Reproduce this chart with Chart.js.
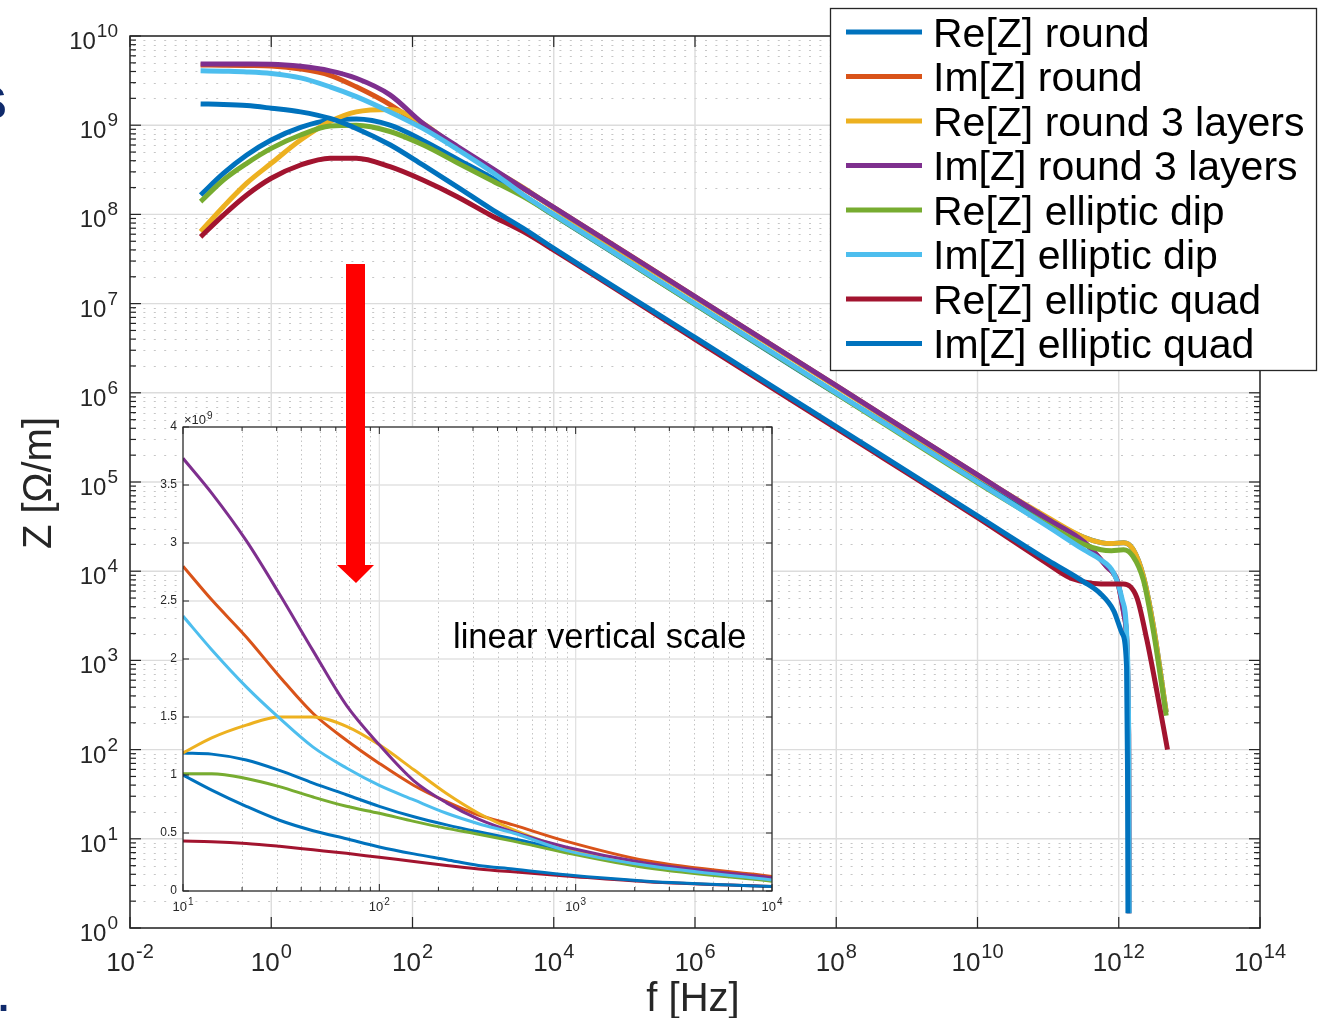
<!DOCTYPE html>
<html>
<head>
<meta charset="utf-8">
<script src="https://cdn.jsdelivr.net/npm/chart.js@4.4.0/dist/chart.umd.min.js"></script>
<style>
html, body { margin: 0; padding: 0; background: #fff; }
#wrap { position: relative; width: 1326px; height: 1018px; overflow: hidden; }
#main { position: absolute; left: 0; top: 0; }
#inset { position: absolute; left: 140px; top: 395px; }
#arrow { position: absolute; left: 0; top: 0; }
.frag { position: absolute; color: #0f2a6b; font-family: "Liberation Sans", Arial, sans-serif; font-weight: bold; }
</style>
</head>
<body>
<div id="wrap">
  <canvas id="main" width="1326" height="1018"></canvas>
  <canvas id="inset" width="650" height="530"></canvas>
  <svg id="arrow" width="1326" height="1018">
    <polygon points="346,264 365,264 365,565 374,565 356,583 337,565 346,565" fill="#ff0000"/>
  </svg>
  <div class="frag" style="left:-24px; top:76px; font-size:46px;">S</div>
  <div class="frag" style="left:-2px; top:975px; font-size:40px;">.</div>
</div>
<script>
// ---- labels / colours
const seriesLabels = ['Re[Z] round', 'Im[Z] round', 'Re[Z] round 3 layers', 'Im[Z] round 3 layers',
                      'Re[Z] elliptic dip', 'Im[Z] elliptic dip', 'Re[Z] elliptic quad', 'Im[Z] elliptic quad'];
const seriesColors = ['#0072BD', '#D95319', '#EDB120', '#7E2F8E', '#77AC30', '#4DBEEE', '#A2142F', '#0072BD'];

// ---- main chart tick labels (exponents of 10)
const xTickExps = [-2, 0, 2, 4, 6, 8, 10, 12, 14];
const yTickExps = [0, 1, 2, 3, 4, 5, 6, 7, 8, 9, 10];

// ---- main chart data, f [Hz] and Z [Ohm/m]
const fMain = [0.1, 0.21, 0.45, 1, 2.6, 6.8, 16, 48, 140, 430, 1.26e3, 3.7e3, 1e4, 1e6, 1e8, 1e10, 1e11];

const reRoundF = [...fMain, 3.2e11, 5.6e11, 7.9e11, 1.17e12, 1.58e12, 2.24e12, 3.1e12, 4.7e12];
const reRoundZ = [1.65e8, 2.88e8, 4.63e8, 6.82e8, 9.46e8, 1.14e9, 1.17e9, 1.0e9, 6.76e8, 4.17e8, 2.63e8, 1.62e8, 9.8e7, 9.8e6, 9.8e5, 1.1e5, 3.8e4,
                  2.4e4, 2.09e4, 2.04e4, 2.09e4, 1.78e4, 8.7e3, 2.4e3, 263];

const imRoundF = [...fMain, 3.2e11, 6.8e11, 9.5e11, 1.2e12, 1.38e12, 1.4e12];
const imRoundZ = [4.73e9, 4.71e9, 4.68e9, 4.62e9, 4.27e9, 3.63e9, 2.69e9, 1.70e9, 9.55e8, 5.5e8, 3.31e8, 1.95e8, 1.2e8, 1.2e7, 1.2e6, 1.2e5, 3.8e4,
                  2.14e4, 1.12e4, 7.9e3, 3.1e3, 150, 1.46];

const re3LayF = [...fMain, 3.2e11, 5.6e11, 7.9e11, 1.17e12, 1.58e12, 2.24e12, 3.1e12, 4.7e12];
const re3LayZ = [6.4e7, 1.22e8, 2.24e8, 3.74e8, 6.82e8, 1.10e9, 1.41e9, 1.5e9, 1.05e9, 5.5e8, 3.31e8, 2.0e8, 1.17e8, 1.17e7, 1.17e6, 1.17e5, 3.98e4,
                 2.4e4, 2.09e4, 2.04e4, 2.09e4, 1.78e4, 8.7e3, 2.4e3, 263];

const im3LayF = [...fMain, 3.2e11, 6.8e11, 9.5e11, 1.2e12, 1.38e12, 1.4e12];
const im3LayZ = [4.85e9, 4.85e9, 4.84e9, 4.82e9, 4.57e9, 4.07e9, 3.36e9, 2.19e9, 1.05e9, 5.8e8, 3.39e8, 1.97e8, 1.2e8, 1.2e7, 1.2e6, 1.2e5, 3.8e4,
                 2.14e4, 1.12e4, 7.9e3, 3.1e3, 150, 1.46];

const reDipF = [...fMain, 3.2e11, 5.6e11, 7.9e11, 1.17e12, 1.58e12, 2.24e12, 3.1e12, 4.7e12];
const reDipZ = [1.39e8, 2.43e8, 3.74e8, 5.5e8, 7.76e8, 9.77e8, 1.0e9, 8.5e8, 6.03e8, 3.8e8, 2.45e8, 1.58e8, 9.8e7, 9.8e6, 9.8e5, 9.8e4, 3.3e4,
                2.0e4, 1.74e4, 1.70e4, 1.74e4, 1.48e4, 7.9e3, 2.1e3, 240];

const imDipF = [...fMain, 3.2e11, 5.5e11, 8.5e11, 1.12e12, 1.32e12, 1.39e12, 1.41e12];
const imDipZ = [4.08e9, 4.03e9, 3.96e9, 3.8e9, 3.39e9, 2.69e9, 2.09e9, 1.41e9, 9.2e8, 5.37e8, 3.09e8, 1.66e8, 1.0e8, 1.0e7, 1.0e6, 1.0e5, 3.16e4,
                1.74e4, 1.35e4, 9.5e3, 4.8e3, 1.32e3, 63, 1.46];

const reQuadF = [...fMain, 2e11, 3.2e11, 5.6e11, 1.17e12, 1.8e12, 2.5e12, 3.5e12, 4.9e12];
const reQuadZ = [5.6e7, 9.8e7, 1.65e8, 2.54e8, 3.58e8, 4.27e8, 4.27e8, 3.43e8, 2.43e8, 1.58e8, 9.86e7, 6.4e7, 3.98e7, 3.98e6, 3.98e5, 3.98e4, 1.2e4,
                 8.5e3, 7.6e3, 7.2e3, 7.2e3, 5.1e3, 1.7e3, 430, 100];

const imQuadF = [...fMain, 3.2e11, 5.5e11, 8.5e11, 1.12e12, 1.29e12, 1.33e12, 1.35e12];
const imQuadZ = [1.73e9, 1.71e9, 1.66e9, 1.55e9, 1.41e9, 1.19e9, 9.2e8, 6.03e8, 3.58e8, 2.04e8, 1.17e8, 6.98e7, 4.17e7, 4.17e6, 4.17e5, 4.17e4, 1.32e4,
                 7.6e3, 5.6e3, 3.6e3, 2.0e3, 850, 63, 1.46];

// ---- inset data (linear vertical scale)
const fInset = [10, 14, 21, 31, 46, 68, 100, 150, 220, 320, 480, 890, 2300, 1e4];
const insReRound = [1.19e9, 1.18e9, 1.13e9, 1.04e9, 9.3e8, 8.3e8, 7.3e8, 6.4e8, 5.7e8, 5.1e8, 4.5e8, 3.5e8, 2.1e8, 9.0e7];
const insImRound = [2.80e9, 2.51e9, 2.19e9, 1.85e9, 1.53e9, 1.30e9, 1.10e9, 9.1e8, 7.7e8, 6.55e8, 5.7e8, 4.3e8, 2.6e8, 1.25e8];
const insRe3Lay  = [1.19e9, 1.32e9, 1.43e9, 1.50e9, 1.50e9, 1.42e9, 1.26e9, 1.045e9, 8.4e8, 6.7e8, 5.3e8, 3.7e8, 2.2e8, 1.0e8];
const insIm3Lay  = [3.73e9, 3.43e9, 3.02e9, 2.56e9, 2.07e9, 1.60e9, 1.26e9, 9.5e8, 7.6e8, 6.2e8, 5.1e8, 3.8e8, 2.4e8, 1.15e8];
const insReDip   = [1.01e9, 1.01e9, 9.7e8, 9.0e8, 8.1e8, 7.3e8, 6.7e8, 6.0e8, 5.4e8, 4.9e8, 4.3e8, 3.3e8, 2.0e8, 8.5e7];
const insImDip   = [2.37e9, 2.08e9, 1.76e9, 1.49e9, 1.24e9, 1.06e9, 9.1e8, 7.85e8, 6.7e8, 5.8e8, 5.0e8, 3.5e8, 2.2e8, 9.5e7];
const insReQuad  = [4.3e8, 4.25e8, 4.1e8, 3.85e8, 3.55e8, 3.25e8, 2.9e8, 2.55e8, 2.2e8, 1.9e8, 1.65e8, 1.3e8, 8.0e7, 3.8e7];
const insImQuad  = [1.0e9, 8.7e8, 7.3e8, 6.1e8, 5.2e8, 4.5e8, 3.8e8, 3.2e8, 2.7e8, 2.2e8, 1.9e8, 1.4e8, 8.5e7, 3.8e7];

const insetYTicks = ['0', '0.5', '1', '1.5', '2', '2.5', '3', '3.5', '4'];
const insetXTickExps = [1, 2, 3, 4];

const FONT = '"Liberation Sans", Arial, Helvetica, sans-serif';
const AX = '#262626';

const mainSeries = [
    [reRoundF, reRoundZ], [imRoundF, imRoundZ], [re3LayF, re3LayZ], [im3LayF, im3LayZ],
    [reDipF, reDipZ], [imDipF, imDipZ], [reQuadF, reQuadZ], [imQuadF, imQuadZ]
];
const insetSeries = [insReRound, insImRound, insRe3Lay, insIm3Lay, insReDip, insImDip, insReQuad, insImQuad];

// later series drawn on top, as in the original plot
const makeDataset = (i, pts, width) => ({
    label: seriesLabels[i],
    data: pts,
    borderColor: seriesColors[i],
    borderWidth: width,
    pointRadius: 0,
    fill: false,
    order: seriesLabels.length - i,
    cubicInterpolationMode: 'monotone'
});

// "10" with a superscript exponent
function powLabel(ctx, x, y, exp, bSize, eSize, rise, align) {
    ctx.font = bSize + 'px ' + FONT;
    const wb = ctx.measureText('10').width;
    ctx.font = eSize + 'px ' + FONT;
    const we = ctx.measureText(String(exp)).width;
    const total = wb + 1 + we;
    const x0 = align === 'right' ? x - total : x - total / 2;
    ctx.textAlign = 'left';
    ctx.textBaseline = 'alphabetic';
    ctx.font = bSize + 'px ' + FONT;
    ctx.fillText('10', x0, y);
    ctx.font = eSize + 'px ' + FONT;
    ctx.fillText(String(exp), x0 + wb + 1, y - rise);
}

function line(ctx, x1, y1, x2, y2) {
    ctx.beginPath(); ctx.moveTo(x1, y1); ctx.lineTo(x2, y2); ctx.stroke();
}

const mainDecor = {
    id: 'mainDecor',
    beforeDraw(chart) {
        const { ctx, chartArea: a, scales: { x, y } } = chart;
        ctx.save();
        ctx.fillStyle = '#fff';
        ctx.fillRect(0, 0, chart.width, chart.height);
        // minor dotted rows
        ctx.strokeStyle = '#c6c6c6';
        ctx.lineWidth = 1;
        ctx.setLineDash([2, 8.4]);
        for (let n = 0; n < 10; n++) {
            for (let k = 2; k <= 9; k++) {
                const py = Math.round(y.getPixelForValue(k * Math.pow(10, n))) + 0.5;
                line(ctx, a.left + 3, py, a.right, py);
            }
        }
        ctx.setLineDash([]);
        // major grid
        ctx.strokeStyle = '#dcdcdc';
        ctx.lineWidth = 1.4;
        yTickExps.forEach(e => {
            const py = y.getPixelForValue(Math.pow(10, e));
            line(ctx, a.left, py, a.right, py);
        });
        xTickExps.forEach(e => {
            const px = x.getPixelForValue(Math.pow(10, e));
            line(ctx, px, a.top, px, a.bottom);
        });
        ctx.restore();
    },
    afterDatasetsDraw(chart) {
        const { ctx, chartArea: a, scales: { x, y } } = chart;
        ctx.save();
        ctx.strokeStyle = AX;
        ctx.lineWidth = 1.5;
        ctx.strokeRect(a.left, a.top, a.right - a.left, a.bottom - a.top);
        // y ticks
        ctx.lineWidth = 1.2;
        for (let n = 0; n <= 10; n++) {
            const py = y.getPixelForValue(Math.pow(10, n));
            line(ctx, a.left, py, a.left + 11, py);
            line(ctx, a.right, py, a.right - 11, py);
            if (n < 10) {
                for (let k = 2; k <= 9; k++) {
                    const pm = y.getPixelForValue(k * Math.pow(10, n));
                    line(ctx, a.left, pm, a.left + 6, pm);
                    line(ctx, a.right, pm, a.right - 6, pm);
                }
            }
        }
        xTickExps.forEach(e => {
            const px = x.getPixelForValue(Math.pow(10, e));
            line(ctx, px, a.bottom, px, a.bottom - 11);
            line(ctx, px, a.top, px, a.top + 11);
        });
        // tick labels
        ctx.fillStyle = AX;
        yTickExps.forEach(e => {
            const py = y.getPixelForValue(Math.pow(10, e));
            powLabel(ctx, 118, py + 13, e, 24, 19, 12, 'right');
        });
        xTickExps.forEach(e => {
            const px = x.getPixelForValue(Math.pow(10, e));
            powLabel(ctx, px, 971, e, 26, 20, 13, 'center');
        });
        // axis titles
        ctx.font = '40px ' + FONT;
        ctx.textAlign = 'center';
        ctx.textBaseline = 'alphabetic';
        ctx.fillText('f [Hz]', 693, 1011);
        ctx.save();
        ctx.translate(51, 483);
        ctx.rotate(-Math.PI / 2);
        ctx.fillText('Z [\u03A9/m]', 0, 0);
        ctx.restore();
        // legend
        ctx.fillStyle = '#fff';
        ctx.fillRect(830, 8, 486, 362);
        ctx.strokeStyle = AX;
        ctx.lineWidth = 1.3;
        ctx.strokeRect(830.5, 8.5, 486, 362);
        ctx.font = '41px ' + FONT;
        ctx.textAlign = 'left';
        chart.data.datasets.forEach((ds, i) => {
            const ry = 32 + i * 44.5;
            ctx.strokeStyle = ds.borderColor;
            ctx.lineWidth = 5;
            line(ctx, 846, ry, 922, ry);
            ctx.fillStyle = '#000';
            ctx.fillText(ds.label, 933, ry + 14.5);
        });
        ctx.restore();
    }
};

const insetDecor = {
    id: 'insetDecor',
    beforeDatasetsDraw(chart) {
        const { ctx, chartArea: a, scales: { x, y } } = chart;
        ctx.save();
        ctx.fillStyle = '#fff';
        ctx.fillRect(a.left, a.top, a.right - a.left, a.bottom - a.top);
        // minor vertical dotted
        ctx.strokeStyle = '#c4c4c4';
        ctx.lineWidth = 1;
        ctx.setLineDash([1.5, 3]);
        for (let n = 1; n <= 3; n++) {
            for (let k = 2; k <= 9; k++) {
                const px = Math.round(x.getPixelForValue(k * Math.pow(10, n))) + 0.5;
                line(ctx, px, a.top, px, a.bottom);
            }
        }
        ctx.setLineDash([]);
        ctx.strokeStyle = '#e2e2e2';
        ctx.lineWidth = 1.3;
        insetYTicks.forEach((t, i) => {
            const py = y.getPixelForValue(i * 0.5e9);
            line(ctx, a.left, py, a.right, py);
        });
        insetXTickExps.forEach(e => {
            const px = x.getPixelForValue(Math.pow(10, e));
            line(ctx, px, a.top, px, a.bottom);
        });
        ctx.restore();
    },
    afterDatasetsDraw(chart) {
        const { ctx, chartArea: a, scales: { x, y } } = chart;
        ctx.save();
        ctx.strokeStyle = AX;
        ctx.lineWidth = 1.2;
        ctx.strokeRect(a.left, a.top, a.right - a.left, a.bottom - a.top);
        ctx.lineWidth = 1;
        insetYTicks.forEach((t, i) => {
            const py = y.getPixelForValue(i * 0.5e9);
            line(ctx, a.left, py, a.left + 6, py);
            line(ctx, a.right, py, a.right - 6, py);
        });
        for (let n = 1; n <= 3; n++) {
            for (let k = 2; k <= 9; k++) {
                const px = x.getPixelForValue(k * Math.pow(10, n));
                line(ctx, px, a.bottom, px, a.bottom - 4);
                line(ctx, px, a.top, px, a.top + 4);
            }
        }
        insetXTickExps.forEach(e => {
            const px = x.getPixelForValue(Math.pow(10, e));
            line(ctx, px, a.bottom, px, a.bottom - 7);
            line(ctx, px, a.top, px, a.top + 7);
        });
        // labels
        ctx.fillStyle = AX;
        ctx.font = '12px ' + FONT;
        ctx.textAlign = 'right';
        ctx.textBaseline = 'middle';
        insetYTicks.forEach((t, i) => {
            ctx.fillText(t, a.left - 6, y.getPixelForValue(i * 0.5e9));
        });
        insetXTickExps.forEach(e => {
            powLabel(ctx, x.getPixelForValue(Math.pow(10, e)), a.bottom + 20, e, 13, 10, 6, 'center');
        });
        ctx.textAlign = 'left';
        ctx.textBaseline = 'alphabetic';
        ctx.font = '13px ' + FONT;
        ctx.fillText('\u00D710', a.left + 1, a.top - 3);
        const w = ctx.measureText('\u00D710').width;
        ctx.font = '10px ' + FONT;
        ctx.fillText('9', a.left + 2 + w, a.top - 8);
        ctx.fillStyle = '#000';
        ctx.font = '34.5px ' + FONT;
        ctx.fillText('linear vertical scale', 453 - 140, 648 - 395);
        ctx.restore();
    }
};

const hideAxis = (dim) => ({
    display: true,
    ticks: { display: false },
    grid: { display: false },
    border: { display: false },
    afterFit: s => { s[dim] = 0; }
});

new Chart(document.getElementById('main'), {
    type: 'line',
    data: {
        datasets: mainSeries.map((s, i) =>
            makeDataset(i, s[0].map((f, j) => ({ x: f, y: s[1][j] })), 5))
    },
    options: {
        responsive: false,
        animation: false,
        devicePixelRatio: 1,
        events: [],
        layout: { padding: { left: 130, top: 36, right: 66, bottom: 90 } },
        plugins: { legend: { display: false }, tooltip: { enabled: false } },
        scales: {
            x: Object.assign({ type: 'logarithmic', min: 1e-2, max: 1e14 }, hideAxis('height')),
            y: Object.assign({ type: 'logarithmic', min: 1, max: 1e10 }, hideAxis('width'))
        }
    },
    plugins: [mainDecor]
});

new Chart(document.getElementById('inset'), {
    type: 'line',
    data: {
        datasets: insetSeries.map((z, i) =>
            makeDataset(i, fInset.map((f, j) => ({ x: f, y: z[j] })), 3))
    },
    options: {
        responsive: false,
        animation: false,
        devicePixelRatio: 1,
        events: [],
        layout: { padding: { left: 43, top: 32, right: 18, bottom: 34 } },
        plugins: { legend: { display: false }, tooltip: { enabled: false } },
        scales: {
            x: Object.assign({ type: 'logarithmic', min: 10, max: 1e4 }, hideAxis('height')),
            y: Object.assign({ type: 'linear', min: 0, max: 4e9 }, hideAxis('width'))
        }
    },
    plugins: [insetDecor]
});
</script>
</body>
</html>
